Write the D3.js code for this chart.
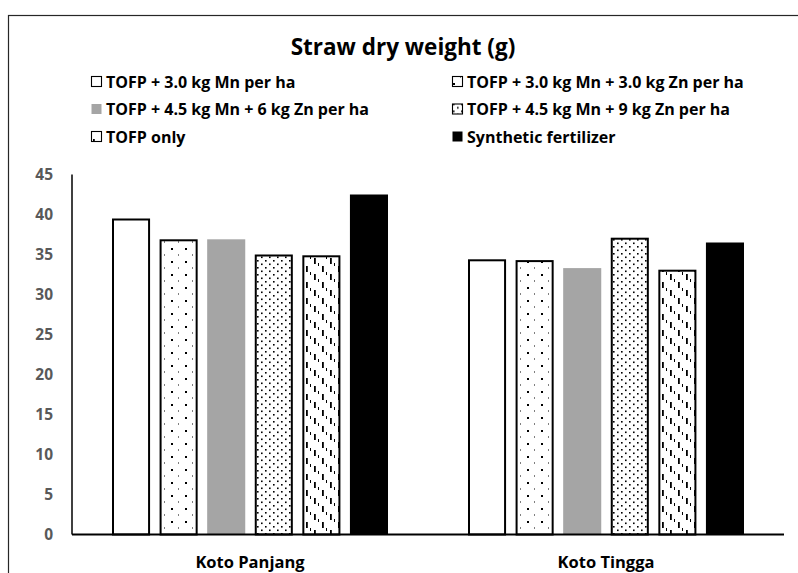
<!DOCTYPE html>
<html>
<head>
<meta charset="utf-8">
<script src="https://cdn.jsdelivr.net/npm/d3@7"></script>
<style>
  html, body { margin: 0; padding: 0; background: #fff; }
  svg { display: block; font-family: "Open Sans", Lato, sans-serif; }
</style>
</head>
<body>
<svg id="chart" width="798" height="573"></svg>
<script>
// Straw dry weight (g) by location and fertilizer treatment
const locations = ["Koto Panjang", "Koto Tingga"];
const treatments = [
  "TOFP + 3.0 kg Mn per ha",
  "TOFP + 3.0 kg Mn + 3.0 kg Zn per ha",
  "TOFP + 4.5 kg Mn + 6 kg Zn per ha",
  "TOFP + 4.5 kg Mn + 9 kg Zn per ha",
  "TOFP only",
  "Synthetic fertilizer"
];
const kotoPanjang = [39.5, 36.9, 36.9, 35.0, 34.9, 42.5];
const kotoTingga  = [34.4, 34.3, 33.3, 37.1, 33.1, 36.5];
const yTicks = [0, 5, 10, 15, 20, 25, 30, 35, 40, 45];

const seriesByLocation = [kotoPanjang, kotoTingga];

const svg = d3.select("#chart");

// fill patterns for the treatments
const defs = svg.append("defs");

const sparse = defs.append("pattern").attr("id", "pSparse")
  .attr("patternUnits", "userSpaceOnUse").attr("width", 14).attr("height", 13);
sparse.append("rect").attr("width", 14).attr("height", 13).attr("fill", "#fff");
sparse.append("rect").attr("x", 1).attr("y", 1).attr("width", 2).attr("height", 2).attr("fill", "#000");
sparse.append("rect").attr("x", 8).attr("y", 7.5).attr("width", 1).attr("height", 1).attr("fill", "#000");

const dense = defs.append("pattern").attr("id", "pDense")
  .attr("patternUnits", "userSpaceOnUse").attr("width", 8).attr("height", 7);
dense.append("rect").attr("width", 8).attr("height", 7).attr("fill", "#fff");
dense.append("rect").attr("x", 1).attr("y", 1).attr("width", 1.6).attr("height", 1.6).attr("fill", "#000");
dense.append("rect").attr("x", 5).attr("y", 4.5).attr("width", 1.6).attr("height", 1.6).attr("fill", "#000");

const dashes = defs.append("pattern").attr("id", "pDash")
  .attr("patternUnits", "userSpaceOnUse").attr("width", 16).attr("height", 16);
dashes.append("rect").attr("width", 16).attr("height", 16).attr("fill", "#fff");
dashes.append("rect").attr("x", 2).attr("y", 2).attr("width", 1.8).attr("height", 6).attr("fill", "#000");
dashes.append("rect").attr("x", 10).attr("y", 10).attr("width", 1.8).attr("height", 6).attr("fill", "#000");
dashes.append("rect").attr("x", 6).attr("y", 7).attr("width", 1).attr("height", 3).attr("fill", "#000");
dashes.append("rect").attr("x", 14).attr("y", 0).attr("width", 1).attr("height", 3).attr("fill", "#000");

const fills   = ["#ffffff", "url(#pSparse)", "#a5a5a5", "url(#pDense)", "url(#pDash)", "#000000"];
const strokes = ["#000", "#000", "none", "#000", "#000", "none"];

// chart border
svg.append("rect")
  .attr("x", 8.5).attr("y", 15.5).attr("width", 800).attr("height", 600)
  .attr("fill", "none").attr("stroke", "#262626").attr("stroke-width", 1.2);

// title
svg.append("text")
  .attr("x", 403).attr("y", 47).attr("dy", "0.35em")
  .attr("text-anchor", "middle")
  .attr("font-size", 22.5).attr("font-weight", 700).attr("fill", "#000")
  .text("Straw dry weight (g)");

// legend
const legendCols = [91, 452];
const legendRows = [82, 109.5, 137];
const legend = svg.append("g");
treatments.forEach((name, i) => {
  const cx = legendCols[i % 2];
  const cy = legendRows[Math.floor(i / 2)];
  const g = legend.append("g").attr("transform", `translate(${cx},${cy})`);
  g.append("rect")
    .attr("x", 0.5).attr("y", -5.5).attr("width", 10).attr("height", 10)
    .attr("fill", fills[i])
    .attr("stroke", strokes[i]).attr("stroke-width", 1.1);
  g.append("text")
    .attr("x", 15).attr("y", 0).attr("dy", "0.35em")
    .attr("font-size", 16).attr("font-weight", 700).attr("fill", "#000")
    .text(name);
});

// scales
const y = d3.scaleLinear().domain([0, 45]).range([534.5, 174.5]);
const x0 = d3.scaleBand().domain(locations).range([72, 784]).padding(0);
const x1 = d3.scaleBand().domain(d3.range(treatments.length))
  .range([40, x0.bandwidth() - 40]).paddingInner(0.2).paddingOuter(0);

// y axis labels (gray, bold) and axis line
const yAxis = svg.append("g").attr("transform", "translate(53,0)")
  .call(d3.axisLeft(y).tickValues(yTicks).tickSize(0).tickPadding(0));
yAxis.select(".domain").remove();
yAxis.selectAll("text")
  .attr("font-family", "'Open Sans', Lato, sans-serif")
  .attr("font-size", 15.5).attr("font-weight", 700).attr("fill", "#595959");

svg.append("line")
  .attr("x1", 72).attr("x2", 72)
  .attr("y1", y(45)).attr("y2", y(0))
  .attr("stroke", "#000").attr("stroke-width", 1.5);

// bars
const groups = svg.append("g").selectAll("g")
  .data(locations).join("g")
  .attr("transform", d => `translate(${x0(d)},0)`);

groups.selectAll("rect")
  .data((d, li) => seriesByLocation[li].map((v, ti) => ({ v, ti })))
  .join("rect")
  .attr("x", d => x1(d.ti) + (strokes[d.ti] === "none" ? 0 : 1))
  .attr("width", d => x1.bandwidth() - (strokes[d.ti] === "none" ? 0 : 2))
  .attr("y", d => y(d.v) + (strokes[d.ti] === "none" ? 0 : 1))
  .attr("height", d => y(0) - y(d.v) - (strokes[d.ti] === "none" ? 0 : 1))
  .attr("fill", d => fills[d.ti])
  .attr("stroke", d => strokes[d.ti])
  .attr("stroke-width", 2);

// x axis baseline and category labels
svg.append("line")
  .attr("x1", 72).attr("x2", 784)
  .attr("y1", y(0)).attr("y2", y(0))
  .attr("stroke", "#000").attr("stroke-width", 2);

svg.append("g").selectAll("text")
  .data(locations).join("text")
  .attr("x", d => x0(d) + x0.bandwidth() / 2)
  .attr("y", 562).attr("dy", "0.35em")
  .attr("text-anchor", "middle")
  .attr("font-size", 16.5).attr("font-weight", 700).attr("fill", "#000")
  .text(d => d);
</script>
</body>
</html>
